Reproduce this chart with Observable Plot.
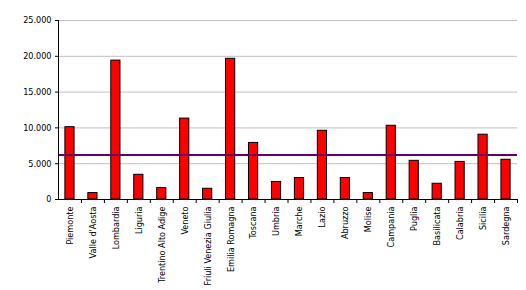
<!DOCTYPE html>
<html>
<head>
<meta charset="utf-8">
<script src="https://cdn.jsdelivr.net/npm/d3@7"></script>
<script src="https://cdn.jsdelivr.net/npm/@observablehq/plot@0.6"></script>
<style>
  html, body { margin: 0; padding: 0; background: white; }
</style>
</head>
<body>
<div id="chart"></div>
<script>
const regions = ["Piemonte", "Valle d'Aosta", "Lombardia", "Liguria", "Trentino Alto Adige", "Veneto",
  "Friuli Venezia Giulia", "Emilia Romagna", "Toscana", "Umbria", "Marche", "Lazio", "Abruzzo",
  "Molise", "Campania", "Puglia", "Basilicata", "Calabria", "Sicilia", "Sardegna"];
const values = [10100, 900, 19400, 3450, 1600, 11300, 1500, 19650, 7900, 2450, 3000, 9600, 3000,
  900, 10300, 5400, 2200, 5250, 9050, 5550];
const average = 6200;
const yTicks = [0, 5000, 10000, 15000, 20000, 25000];

const data = regions.map((r, i) => ({region: r, value: values[i]}));
const itLocale = d3.formatLocale({decimal: ",", thousands: ".", grouping: [3], currency: ["", "€"]});
const fmt = itLocale.format(",");

const W = 526, H = 290, mL = 58, mR = 9, mT = 20, mB = 91;
const step = (W - mL - mR) / regions.length;

const chart = Plot.plot({
  width: W, height: H,
  marginLeft: mL, marginRight: mR, marginTop: mT, marginBottom: mB,
  style: {fontFamily: "'Liberation Sans Narrow', 'DejaVu Sans Condensed', 'Liberation Sans', sans-serif", fontSize: "9px", background: "white", color: "black"},
  x: {domain: regions, paddingInner: 0.6, paddingOuter: 0.3, round: false, label: null},
  y: {domain: [0, 25000], label: null},
  marks: [
    Plot.gridY(yTicks.slice(1), {stroke: "#c0c0c0", strokeOpacity: 1}),
    Plot.barY(data, {x: "region", y: "value", fill: "#ff0000", stroke: "black", strokeWidth: 1}),
    Plot.ruleY([average], {stroke: "#660066", strokeWidth: 2}),
    Plot.ruleY([0], {stroke: "black"}),
    Plot.frame({anchor: "left", stroke: "black"}),
    Plot.axisY(yTicks, {tickSize: 3, tickPadding: 4, tickFormat: fmt, label: null}),
    Plot.axisX({tickSize: 0, tickRotate: -90, tickPadding: 7, label: null}),
    Plot.axisX({tickSize: 4, tickFormat: () => "", dx: step / 2, label: null})
  ]
});
document.getElementById("chart").appendChild(chart);
</script>
</body>
</html>
